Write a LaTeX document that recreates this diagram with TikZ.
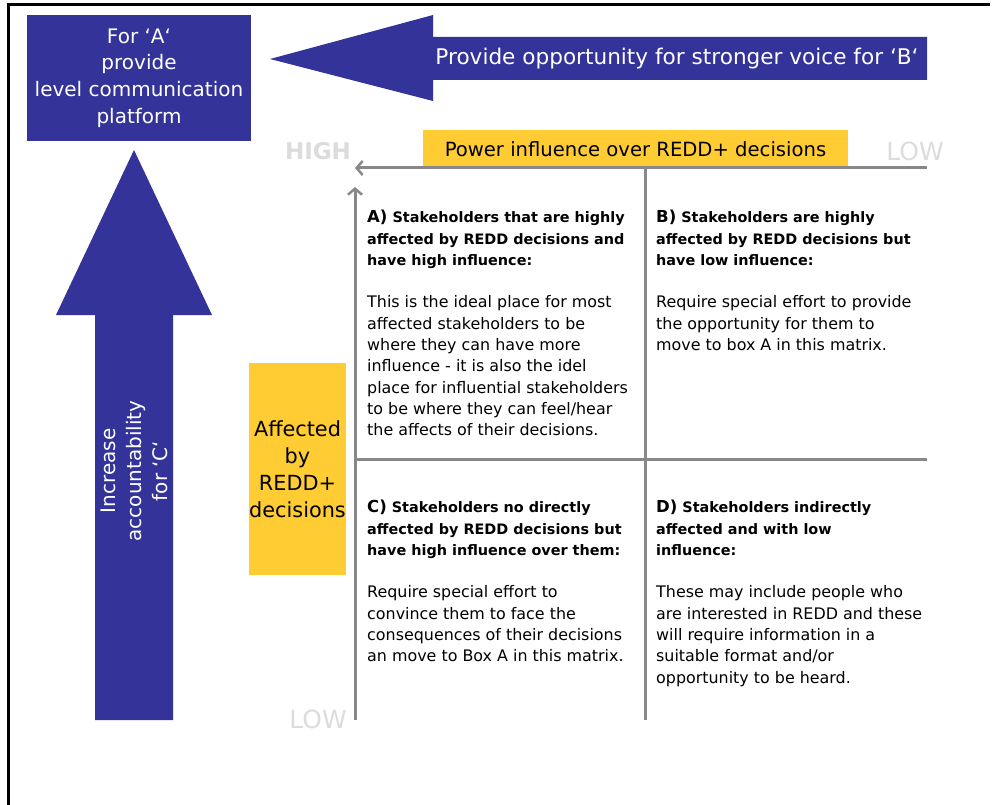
\documentclass[tikz,border=0pt]{standalone}
\usepackage{fontspec}
\setmainfont{DejaVu Sans}
\usetikzlibrary{arrows.meta}
\definecolor{navy}{RGB}{51,51,153}
\definecolor{gold}{RGB}{255,204,51}
\definecolor{axisgray}{RGB}{136,136,136}
\definecolor{labgray}{RGB}{220,220,220}
\newcommand{\qh}[2]{\textbf{{\fontsize{16.5}{21.3}\selectfont #1}\fontsize{14.4}{21.3}\selectfont #2}}
\tikzset{
  bluebox/.style={fill=navy,draw=none,text=white,align=center,inner sep=0pt},
  goldbox/.style={fill=gold,draw=none,text=black,align=center,inner sep=0pt},
  axisline/.style={draw=axisgray,line width=3pt},
  axislabel/.style={text=labgray,inner sep=0pt},
  quad/.style={align=left,inner sep=0pt,anchor=north west,font=\fontsize{15.9}{21.3}\selectfont},
  whitetext/.style={text=white,inner sep=0pt,align=center}
}
\begin{document}
\begin{tikzpicture}[x=1pt,y=-1pt]
\useasboundingbox (0,0) rectangle (1003,805);
% frame
\draw[line width=3pt] (8,805) -- (8,5) -- (990,5);
% top-left box
\node[bluebox,minimum width=224pt,minimum height=126pt,font=\fontsize{20}{26.8}\selectfont] (plat) at (139,78)
  {For ‘A‘\\provide\\level communication\\platform};
% left-pointing big arrow
\fill[navy] (270,59) -- (433,15) -- (433,37) -- (927,37) -- (927,80) -- (433,80) -- (433,101) -- cycle;
\node[whitetext,font=\fontsize{21.6}{24}\selectfont] (voice) at (677,59) {Provide opportunity for stronger voice for ‘B‘};
% up big arrow
\fill[navy] (134,150) -- (212,315) -- (173,315) -- (173,720) -- (95,720) -- (95,315) -- (56,315) -- cycle;
\node[whitetext,rotate=90,font=\fontsize{20}{26}\selectfont] (acc) at (134,471) {Increase\\accountability\\for ‘C‘};
% power box
\node[goldbox,minimum width=425pt,minimum height=37pt,font=\fontsize{19.6}{24}\selectfont] (power) at (635.5,149) {Power influence over REDD+ decisions};
% affected box
\node[goldbox,minimum width=97pt,minimum height=212pt,font=\fontsize{20.8}{27}\selectfont] (aff) at (297.5,469) {Affected\\by\\REDD+\\decisions};
% axis labels
\node[axislabel,font=\fontsize{23}{24}\selectfont\bfseries] (high) at (318,151) {HIGH};
\node[axislabel,font=\fontsize{25}{26}\selectfont] (lowr) at (915,151) {LOW};
\node[axislabel,font=\fontsize{25}{26}\selectfont] (lowb) at (318,719) {LOW};
% axes
\coordinate (hR) at (927,168);
\coordinate (hL) at (355,168);
\coordinate (vB) at (355,720);
\coordinate (vT) at (355,187);
\draw[axisline,-{Straight Barb[length=6pt,width=14pt,line width=2.5pt]}] (hR) -- (hL);
\draw[axisline,-{Straight Barb[length=6pt,width=14pt,line width=2.5pt]}] (vB) -- (vT);
\coordinate (dT) at (645,168);
\coordinate (dB) at (645,720);
\coordinate (mL) at (355,459);
\coordinate (mR) at (927,459);
\draw[axisline] (dT) -- (dB);
\draw[axisline] (mL) -- (mR);
% quadrant texts
\node[quad] (qa) at (367,210) {\qh{A)}{ Stakeholders that are highly}\\\qh{}{affected by REDD decisions and}\\\qh{}{have high influence:}\\[21.3pt]This is the ideal place for most\\affected stakeholders to be\\where they can have more\\influence - it is also the idel\\place for influential stakeholders\\to be where they can feel/hear\\the affects of their decisions.};
\node[quad] (qb) at (656,210) {\qh{B)}{ Stakeholders are highly}\\\qh{}{affected by REDD decisions but}\\\qh{}{have low influence:}\\[21.3pt]Require special effort to provide\\the opportunity for them to\\move to box A in this matrix.};
\node[quad] (qc) at (367,500) {\qh{C)}{ Stakeholders no directly}\\\qh{}{affected by REDD decisions but}\\\qh{}{have high influence over them:}\\[21.3pt]Require special effort to\\convince them to face the\\consequences of their decisions\\an move to Box A in this matrix.};
\node[quad] (qd) at (656,500) {\qh{D)}{ Stakeholders indirectly}\\\qh{}{affected and with low}\\\qh{}{influence:}\\[21.3pt]These may include people who\\are interested in REDD and these\\will require information in a\\suitable format and/or\\opportunity to be heard.};
\end{tikzpicture}
\end{document}
